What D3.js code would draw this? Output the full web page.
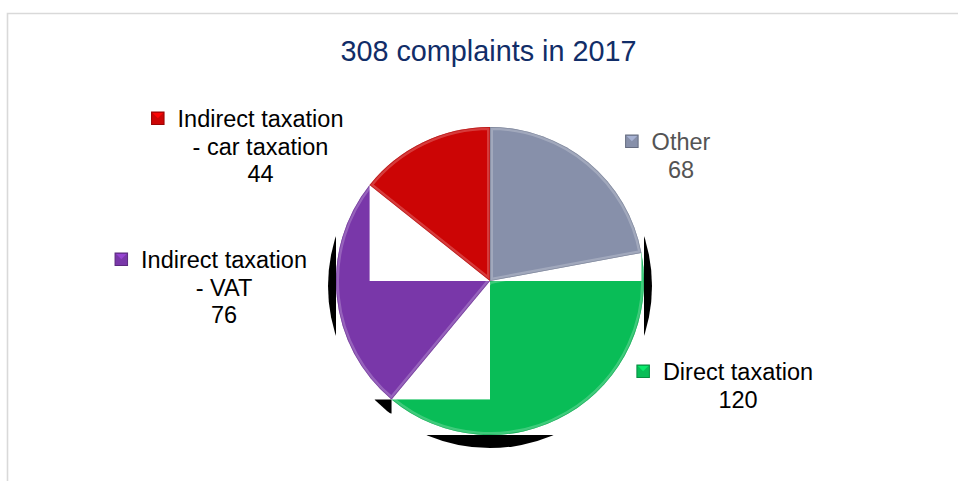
<!DOCTYPE html>
<html>
<head>
<meta charset="utf-8">
<script src="https://cdn.jsdelivr.net/npm/d3@7"></script>
<style>
  html, body { margin: 0; padding: 0; background: #ffffff; }
  svg { display: block; }
  text { font-family: "Liberation Sans", Arial, sans-serif; }
</style>
</head>
<body>
<svg id="chart" width="958" height="481"></svg>
<script>
// ---- data ----
const title = "308 complaints in 2017";
const categories = ["Other", "Direct taxation", "Indirect taxation - VAT", "Indirect taxation - car taxation"];
const values = [68, 120, 76, 44];
// ---- styles ----
const colors = ["#8790aa", "#09bd57", "#7937a9", "#cc0505"];
const labelColors = ["#545454", "#000000", "#000000", "#000000"];

const W = 958, H = 481;
const svg = d3.select("#chart");

// frame
svg.append("path")
  .attr("d", `M7.5,${H} L7.5,13.5 L${W},13.5`)
  .attr("fill", "none").attr("stroke", "#d9d9d9").attr("stroke-width", 1.6);

// title
svg.append("text")
  .attr("x", 488.5).attr("y", 61)
  .attr("text-anchor", "middle")
  .attr("font-size", 28.8)
  .attr("fill", "#112d68")
  .text(title);

const cx = 490, cy = 281, r = 154;
const g = svg.append("g").attr("transform", `translate(${cx},${cy})`);

const pie = d3.pie().sort(null).value(d => d)(values);
const arc = d3.arc().innerRadius(0).outerRadius(r);
const pt = a => [r * Math.sin(a), -r * Math.cos(a)];

const defs = svg.append("defs");

// shadow circle, only visible in fragments
const sdy = 5, sr = r + 8;
const shClip = defs.append("clipPath").attr("id", "shclip");
shClip.append("rect").attr("x", -sr - 5).attr("y", -sr).attr("width", sr - r + 5).attr("height", 2 * sr + 10);
shClip.append("rect").attr("x", r).attr("y", -sr).attr("width", sr - r + 5).attr("height", 2 * sr + 10);
shClip.append("rect").attr("x", -sr).attr("y", r).attr("width", 2 * sr).attr("height", sr);
shClip.append("rect").attr("x", -sr).attr("y", -sr - 5).attr("width", 2 * sr).attr("height", sr - r - 6.5);
{
  const p = pt(pie[2].startAngle);
  shClip.append("rect").attr("x", p[0] - 17).attr("y", p[1]).attr("width", 17).attr("height", 14);
}
g.append("circle").attr("cx", 0).attr("cy", sdy).attr("r", sr)
  .attr("fill", "#000").attr("clip-path", "url(#shclip)");

function drawSlice(i) {
  const d = pie[i];
  const id = "sl" + i;
  defs.append("clipPath").attr("id", id).append("path").attr("d", arc(d));
  const s = g.append("g");
  s.append("path").attr("d", arc(d)).attr("fill", colors[i]);
  // bevel rim
  s.append("path").attr("d", arc(d)).attr("fill", "none")
    .attr("stroke", "#ffffff").attr("stroke-opacity", 0.22).attr("stroke-width", 6)
    .attr("clip-path", `url(#${id})`);
  s.append("path").attr("d", arc(d)).attr("fill", "none")
    .attr("stroke", d3.color(colors[i]).darker(0.6)).attr("stroke-opacity", 0.6).attr("stroke-width", 1.4)
    .attr("clip-path", `url(#${id})`);
}
function whiteBox(i) {
  const p = pt(pie[i].startAngle);
  g.append("rect")
    .attr("x", Math.min(0, p[0])).attr("y", Math.min(0, p[1]))
    .attr("width", Math.abs(p[0])).attr("height", Math.abs(p[1]))
    .attr("fill", "#ffffff");
}

drawSlice(1);
whiteBox(1);
whiteBox(2);
drawSlice(2);
whiteBox(3);
drawSlice(3);
drawSlice(0);

// labels
const labelPos = [[681, 150], [738, 380], [224, 268], [260.5, 127]];
const fs = 23.5, lh = 27.5;
categories.forEach((c, i) => {
  const parts = c.split(" - ");
  const lines = [parts[0]];
  if (parts.length > 1) lines.push("- " + parts[1]);
  lines.push(String(values[i]));
  const [lx, ly] = labelPos[i];
  const t = svg.append("text").attr("text-anchor", "middle")
    .attr("font-size", fs).attr("fill", labelColors[i]);
  lines.forEach((ln, k) => {
    t.append("tspan").attr("x", lx).attr("y", ly + k * lh).text(ln);
  });
  const w = t.select("tspan").node().getComputedTextLength();
  const sx = lx - w / 2 - 26, sy = ly - 15;
  const col = d3.color(colors[i]);
  svg.append("rect").attr("x", sx).attr("y", sy).attr("width", 12.5).attr("height", 12.5)
    .attr("fill", col.formatHex()).attr("stroke", col.darker(0.8).formatHex()).attr("stroke-width", 1);
  svg.append("path")
    .attr("d", `M${sx + 1},${sy + 1} L${sx + 11.5},${sy + 1} L${sx + 6.25},${sy + 6.25} Z`)
    .attr("fill", col.brighter(0.6).formatHex());
});
</script>
</body>
</html>
